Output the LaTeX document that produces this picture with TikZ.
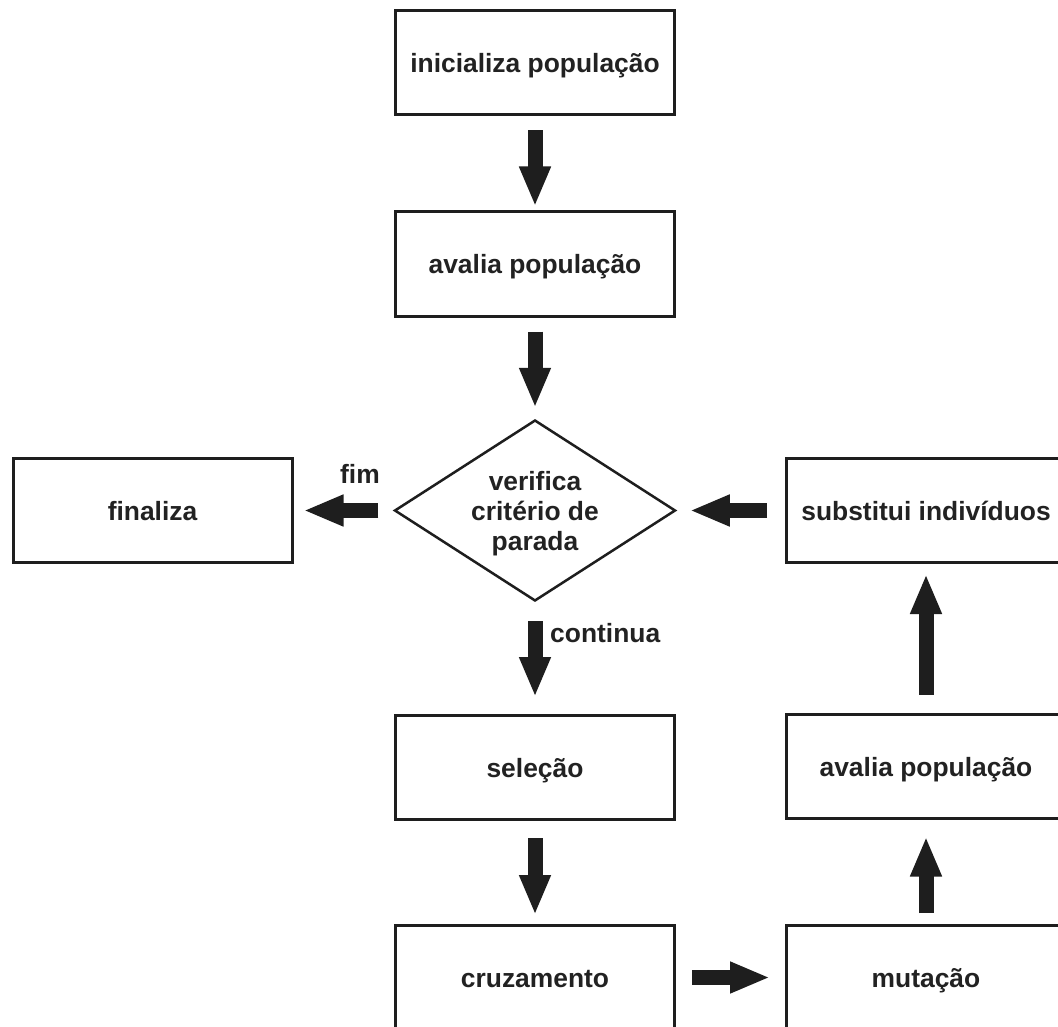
\documentclass[tikz,border=0pt]{standalone}
\usepackage{fontspec}
\setmainfont{Liberation Sans}
\usetikzlibrary{shapes.geometric,arrows.meta}
\definecolor{ink}{HTML}{1E1E1E}
\definecolor{txt}{HTML}{222222}
\begin{document}
\begin{tikzpicture}[x=1pt,y=-1pt,
  every node/.style={font=\fontsize{26.4}{30}\selectfont\bfseries, text=txt},
  box/.style={draw=ink, line width=3pt, minimum width=279pt, minimum height=104pt, inner sep=0pt, text height=22pt, text depth=2pt},
  decision/.style={draw=ink, line width=2.5pt, shape=diamond, aspect=1.55, minimum width=281pt, minimum height=181pt, inner sep=0pt, align=center, text depth=0pt},
  lbl/.style={inner sep=0pt},
  blockarrow/.style={draw=ink, line width=15pt, -{Triangle[length=40pt,width=29pt]}}
]
\path[use as bounding box, clip] (0,0) rectangle (1058,1027);
\fill[white] (0,0) rectangle (1058,1027);

\node[box] (b1) at (535,63) {inicializa população};
\node[box] (b2) at (535,264) {avalia população};
\node[decision] (d) at (535,510.5) {verifica\\critério de\\parada};
\node[box] (fin) at (152.5,510.5) {finaliza};
\node[box] (sub) at (926,510.5) {substitui indivíduos};
\node[box] (sel) at (535,767.5) {seleção};
\node[box] (cru) at (535,977.5) {cruzamento};
\node[box] (av2) at (926,766) {avalia população};
\node[box] (mut) at (926,977.5) {mutação};

\node[lbl] (fim) at (360,474) {fim};
\node[lbl, anchor=west] (cont) at (550,633) {continua};

\draw[blockarrow, shorten <=14pt, shorten >=4pt] (b1.south) -- (b2.north);
\draw[blockarrow, shorten <=14pt, shorten >=11pt] (b2.south) -- (d.north);
\draw[blockarrow, shorten <=19pt, shorten >=17pt] (d.south) -- (sel.north);
\draw[blockarrow, shorten <=17pt, shorten >=9pt] (sel.south) -- (cru.north);
\draw[blockarrow, shorten <=16pt, shorten >=15pt] (cru.east) -- (mut.west);
\draw[blockarrow, shorten <=11pt, shorten >=17pt] (mut.north) -- (av2.south);
\draw[blockarrow, shorten <=18pt, shorten >=10pt] (av2.north) -- (sub.south);
\draw[blockarrow, shorten <=18pt, shorten >=13pt] (sub.west) -- (d.east);
\draw[blockarrow, shorten <=15pt, shorten >=10pt] (d.west) -- (fin.east);
\end{tikzpicture}
\end{document}
